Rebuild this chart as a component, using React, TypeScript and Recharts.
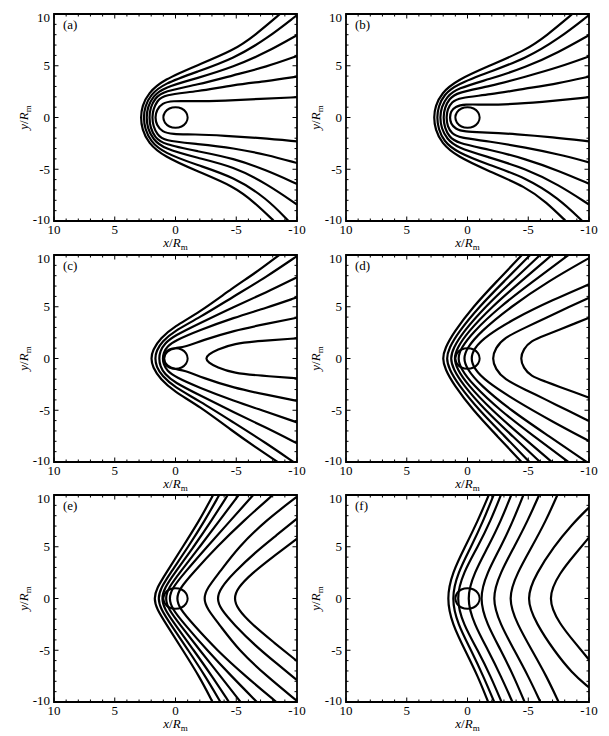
import React from 'react';
import { ScatterChart, Scatter, XAxis, YAxis, ReferenceArea } from 'recharts';

type Pt = [number, number];

// axis ticks (minor every 1, labels every 5)
const xTicks = [10, 9, 8, 7, 6, 5, 4, 3, 2, 1, 0, -1, -2, -3, -4, -5, -6, -7, -8, -9, -10];
const yTicks = [-10, -9, -8, -7, -6, -5, -4, -3, -2, -1, 0, 1, 2, 3, 4, 5, 6, 7, 8, 9, 10];
const labelTicks = [10, 5, 0, -5, -10];
const panelTags = ['(a)', '(b)', '(c)', '(d)', '(e)', '(f)'];

// planet outline, R = 1 (a little overlap so the spline closes smoothly)
const planet: Pt[] = [
  [0.87, -0.5], [1, 0], [0.87, 0.5], [0.5, 0.87], [0, 1], [-0.5, 0.87], [-0.87, 0.5], [-1, 0],
  [-0.87, -0.5], [-0.5, -0.87], [0, -1], [0.5, -0.87], [0.87, -0.5], [1, 0], [0.87, 0.5],
];

const curvesA: Pt[][] = [
  [[-8.6, 10], [-6.5, 7.9], [-4.8, 6.5], [-1.8, 5.05], [1.0, 3.65], [2.25, 2.35], [2.75, 1.1], [2.87, 0], [2.75, -1.15], [2.25, -2.45], [1.0, -3.75], [-1.8, -5.2], [-4.8, -6.65], [-6.5, -8.2], [-8.1, -10]],
  [[-10, 9.9], [-7.5, 7.6], [-4.8, 5.7], [-1.8, 4.43], [1.0, 3.25], [2.05, 2.2], [2.52, 1.05], [2.63, 0], [2.52, -1.1], [2.05, -2.3], [1.0, -3.4], [-1.8, -4.6], [-4.8, -5.75], [-7.5, -7.8], [-9.3, -10]],
  [[-10, 7.96], [-7.5, 6.3], [-4.8, 4.9], [-1.8, 3.8], [1.0, 2.9], [1.85, 2.05], [2.3, 1.0], [2.4, 0], [2.3, -1.05], [1.85, -2.1], [1.0, -3.0], [-1.8, -3.9], [-4.8, -4.75], [-7.5, -6.4], [-10, -8.41]],
  [[-10, 5.94], [-7.5, 4.9], [-4.8, 4.1], [-1.8, 3.15], [1.0, 2.55], [1.7, 1.85], [2.07, 0.95], [2.17, 0], [2.07, -1.0], [1.7, -1.9], [1.0, -2.6], [-1.8, -3.25], [-4.8, -3.95], [-7.5, -5.1], [-10, -6.42]],
  [[-10, 3.95], [-7.5, 3.5], [-4.8, 3.15], [-1.8, 2.5], [1.0, 2.2], [1.5, 1.6], [1.83, 0.82], [1.93, 0], [1.83, -0.85], [1.5, -1.65], [1.0, -2.25], [-1.8, -2.55], [-4.8, -2.95], [-7.5, -3.6], [-10, -4.4]],
  [[-10, 1.96], [-7, 1.8], [-4, 1.62], [-1.5, 1.55], [0.3, 1.62], [1.1, 1.38], [1.55, 0.75], [1.69, 0], [1.55, -0.75], [1.1, -1.38], [0.3, -1.62], [-1.5, -1.62], [-4, -1.75], [-7, -1.98], [-10, -2.31]],
];

const curvesB: Pt[][] = [
  [[-8.63, 10], [-6.5, 7.9], [-4.8, 6.5], [-1.8, 5.0], [0.9, 3.6], [2.15, 2.35], [2.65, 1.1], [2.78, 0], [2.65, -1.15], [2.15, -2.45], [0.9, -3.75], [-1.8, -5.2], [-4.8, -6.7], [-6.5, -8.2], [-8.08, -10]],
  [[-10, 9.9], [-7.5, 7.6], [-4.8, 5.7], [-1.8, 4.4], [0.9, 3.2], [1.95, 2.2], [2.4, 1.05], [2.52, 0], [2.4, -1.1], [1.95, -2.3], [0.9, -3.35], [-1.8, -4.6], [-4.8, -5.8], [-7.5, -7.8], [-9.45, -10]],
  [[-10, 7.96], [-7.5, 6.3], [-4.8, 4.85], [-1.8, 3.7], [0.9, 2.8], [1.7, 2.0], [2.15, 1.0], [2.27, 0], [2.15, -1.05], [1.7, -2.05], [0.9, -2.9], [-1.8, -3.85], [-4.8, -4.95], [-7.5, -6.5], [-10, -8.41]],
  [[-10, 5.9], [-7.5, 4.85], [-4.8, 3.95], [-1.8, 3.0], [0.9, 2.4], [1.5, 1.8], [1.88, 0.95], [2.0, 0], [1.88, -1.0], [1.5, -1.85], [0.9, -2.45], [-1.8, -3.1], [-4.8, -4.0], [-7.5, -5.15], [-10, -6.4]],
  [[-10, 3.95], [-7.5, 3.3], [-4.8, 2.8], [-1.8, 2.2], [0.7, 1.9], [1.3, 1.5], [1.65, 0.8], [1.75, 0], [1.65, -0.85], [1.3, -1.55], [0.7, -1.95], [-1.8, -2.3], [-4.8, -2.9], [-7.5, -3.55], [-10, -4.33]],
  [[-10, 1.96], [-7, 1.6], [-4, 1.3], [-1.5, 1.22], [0.3, 1.3], [1.0, 1.05], [1.38, 0.6], [1.46, 0], [1.38, -0.6], [1.0, -1.1], [0.3, -1.38], [-1.5, -1.44], [-4, -1.6], [-7, -1.9], [-10, -2.3]],
];

const curvesC: Pt[][] = [
  [[-8.53, 10], [-6.5, 8.2], [-4.8, 6.9], [-1.9, 4.4], [0.1, 3.1], [1.25, 1.95], [1.88, 0.82], [2.02, 0], [1.88, -0.85], [1.25, -2.0], [0.1, -3.2], [-1.9, -4.55], [-4.8, -7.1], [-6.5, -8.5], [-8.4, -10]],
  [[-10, 9.9], [-7.5, 7.9], [-4.8, 6.0], [-1.9, 3.9], [0.1, 2.65], [1.1, 1.65], [1.58, 0.75], [1.69, 0], [1.58, -0.78], [1.1, -1.7], [0.1, -2.75], [-1.9, -4.05], [-4.8, -6.2], [-7.5, -8.2], [-9.7, -10]],
  [[-10, 7.85], [-7.5, 6.4], [-4.8, 5.0], [-1.9, 3.35], [0.1, 2.2], [0.9, 1.45], [1.27, 0.7], [1.36, 0], [1.27, -0.72], [0.9, -1.5], [0.1, -2.3], [-1.9, -3.5], [-4.8, -5.2], [-7.5, -6.7], [-10, -8.2]],
  [[-10, 5.91], [-7.5, 4.9], [-4.8, 3.95], [-1.9, 2.7], [0, 1.75], [0.7, 1.15], [0.98, 0.55], [1.06, 0], [0.98, -0.57], [0.7, -1.2], [0, -1.8], [-1.9, -2.8], [-4.8, -4.1], [-7.5, -5.15], [-10, -6.17]],
  [[-10, 3.94], [-7.5, 3.35], [-4.8, 2.7], [-2.2, 1.75], [-0.7, 1.08], [0.0, 1.04], [0.74, 0.72], [1.03, 0], [0.74, -0.74], [0.0, -1.06], [-0.7, -1.12], [-2.2, -1.85], [-4.8, -2.85], [-7.5, -3.5], [-10, -4.1]],
  [[-10, 1.95], [-7, 1.7], [-4.8, 1.45], [-3.4, 0.85], [-2.7, 0.38], [-2.47, 0], [-2.7, -0.38], [-3.4, -0.85], [-4.8, -1.42], [-7, -1.66], [-10, -1.91]],
];

const curvesD: Pt[][] = [
  [[-4.48, 10], [-2.45, 7.5], [-0.45, 5], [1.15, 2.5], [1.85, 1], [2.07, 0], [1.85, -1], [1.15, -2.5], [-0.45, -5], [-2.45, -7.5], [-4.45, -10]],
  [[-5.16, 10], [-3.05, 7.5], [-0.95, 5], [0.78, 2.5], [1.52, 1], [1.75, 0], [1.52, -1], [0.78, -2.5], [-0.95, -5], [-3.05, -7.5], [-5.1, -10]],
  [[-5.98, 10], [-3.7, 7.5], [-1.45, 5], [0.4, 2.5], [1.18, 1], [1.42, 0], [1.18, -1], [0.4, -2.5], [-1.45, -5], [-3.7, -7.5], [-5.98, -10]],
  [[-6.94, 10], [-4.45, 7.5], [-2.0, 5], [0.02, 2.5], [0.86, 1], [1.12, 0], [0.86, -1], [0.02, -2.5], [-2.0, -5], [-4.45, -7.5], [-6.94, -10]],
  [[-8.3, 10], [-5.45, 7.5], [-2.65, 5], [-0.4, 2.5], [0.54, 1], [0.82, 0], [0.54, -1], [-0.4, -2.5], [-2.65, -5], [-5.45, -7.5], [-8.3, -10]],
  [[-10, 9.7], [-6.7, 7.5], [-3.55, 5], [-0.98, 2.5], [0.05, 1], [0.35, 0], [0.05, -1], [-0.98, -2.5], [-3.55, -5], [-6.7, -7.5], [-9.8, -10]],
  [[-10, 7.17], [-7.0, 5.65], [-4.0, 3.95], [-1.5, 2.15], [-0.55, 1], [-0.25, 0], [-0.55, -1], [-1.5, -2.2], [-4.0, -4.1], [-7.0, -6.1], [-10, -7.97]],
  [[-10, 5.87], [-8.2, 4.9], [-6.5, 3.95], [-4.7, 2.95], [-3.0, 2.0], [-2.3, 1], [-2.02, 0], [-2.3, -1], [-3.0, -2.0], [-4.7, -2.98], [-6.5, -4.0], [-8.2, -5.0], [-10, -6.04]],
  [[-10, 3.94], [-8.8, 3.37], [-7.6, 2.8], [-6.4, 2.25], [-5.2, 1.7], [-4.6, 0.9], [-4.34, 0], [-4.6, -0.9], [-5.2, -1.7], [-6.4, -2.22], [-7.6, -2.75], [-8.8, -3.27], [-10, -3.78]],
];

const curvesE: Pt[][] = [
  [[-3.1, 10], [-1.95, 7.5], [-0.6, 5], [0.75, 2.5], [1.55, 1], [1.78, 0], [1.55, -1], [0.75, -2.5], [-0.6, -5], [-1.95, -7.5], [-3.05, -10]],
  [[-3.6, 10], [-2.4, 7.5], [-1.05, 5], [0.4, 2.5], [1.22, 1], [1.45, 0], [1.22, -1], [0.4, -2.5], [-1.05, -5], [-2.45, -7.5], [-3.7, -10]],
  [[-4.3, 10], [-2.95, 7.5], [-1.5, 5], [0.05, 2.5], [0.92, 1], [1.15, 0], [0.92, -1], [0.05, -2.5], [-1.5, -5], [-3.0, -7.5], [-4.4, -10]],
  [[-5.2, 10], [-3.6, 7.5], [-2.0, 5], [-0.35, 2.5], [0.6, 1], [0.85, 0], [0.6, -1], [-0.35, -2.5], [-2.0, -5], [-3.7, -7.5], [-5.35, -10]],
  [[-6.4, 10], [-4.5, 7.5], [-2.6, 5], [-0.75, 2.5], [0.28, 1], [0.55, 0], [0.28, -1], [-0.75, -2.5], [-2.6, -5], [-4.6, -7.5], [-6.7, -10]],
  [[-8.0, 10], [-5.6, 7.5], [-3.4, 5], [-1.45, 2.5], [-0.35, 1], [-0.06, 0], [-0.35, -1], [-1.45, -2.5], [-3.4, -5], [-5.75, -7.5], [-8.3, -10]],
  [[-10, 9.84], [-7.4, 7.5], [-5.2, 5], [-3.6, 2.5], [-2.6, 1], [-2.3, 0], [-2.6, -1], [-3.6, -2.5], [-5.2, -5], [-7.5, -7.5], [-10, -9.9]],
  [[-10, 7.73], [-8.3, 6.1], [-6.6, 4.5], [-4.8, 2.5], [-3.7, 1], [-3.4, 0], [-3.7, -1], [-4.8, -2.5], [-6.6, -4.6], [-8.3, -6.25], [-10, -7.9]],
  [[-10, 5.78], [-8.1, 4.1], [-6.25, 2.4], [-5.1, 1], [-4.8, 0], [-5.1, -1], [-6.25, -2.45], [-8.1, -4.25], [-10, -6.05]],
];

const curvesF: Pt[][] = [
  [[-1.75, 10], [-0.85, 7.5], [0.2, 5], [1.25, 2.5], [1.74, 0], [1.25, -2.5], [0.2, -5], [-0.85, -7.5], [-1.7, -10]],
  [[-2.15, 10], [-1.3, 7.5], [-0.3, 5], [0.8, 2.5], [1.35, 0], [0.8, -2.5], [-0.3, -5], [-1.3, -7.5], [-2.2, -10]],
  [[-2.75, 10], [-1.9, 7.5], [-0.85, 5], [0.35, 2.5], [0.97, 0], [0.35, -2.5], [-0.85, -5], [-1.9, -7.5], [-2.8, -10]],
  [[-3.6, 10], [-2.75, 7.5], [-1.7, 5], [-0.55, 2.5], [0.12, 0], [-0.55, -2.5], [-1.7, -5], [-2.75, -7.5], [-3.7, -10]],
  [[-4.6, 10], [-3.75, 7.5], [-2.75, 5], [-1.6, 2.5], [-0.94, 0], [-1.6, -2.5], [-2.75, -5], [-3.8, -7.5], [-4.7, -10]],
  [[-5.9, 10], [-4.95, 7.5], [-3.85, 5], [-2.7, 2.5], [-1.96, 0], [-2.7, -2.5], [-3.85, -5], [-5.0, -7.5], [-6.0, -10]],
  [[-7.4, 10], [-6.45, 7.5], [-5.3, 5], [-4.1, 2.5], [-3.28, 0], [-4.1, -2.5], [-5.3, -5], [-6.5, -7.5], [-7.5, -10]],
  [[-10, 8.8], [-8.55, 7.1], [-7.1, 5], [-5.7, 2.5], [-4.75, 0], [-5.7, -2.5], [-7.1, -5], [-8.6, -7.2], [-10, -8.6]],
  [[-10, 5.9], [-8.8, 4.2], [-7.6, 2.5], [-6.5, 0], [-7.6, -2.5], [-8.8, -4.2], [-10, -5.92]],
];

const panelCurves = [curvesA, curvesB, curvesC, curvesD, curvesE, curvesF];

// layout
const PLOT_W = 243;
const PLOT_H = 207;
const Y_AX = 40;
const X_AX = 28;
const M_TOP = 6;
const M_RIGHT = 16;
const colLeft = [54, 346];
const rowTop = [14, 255, 495];
const FONT = '"Liberation Serif", "Times New Roman", serif';

const toXY = (pts: Pt[]) => pts.map(([x, y]) => ({ x, y }));

function XTick(props: any) {
  const { x, y, payload } = props;
  const v = payload.value;
  const major = labelTicks.includes(v);
  const len = major ? 4.5 : 2.5;
  return (
    <g>
      <line x1={x} y1={y} x2={x} y2={y - len} stroke="#000" strokeWidth={1} />
      <line x1={x} y1={y - PLOT_H} x2={x} y2={y - PLOT_H + len} stroke="#000" strokeWidth={1} />
      {major && (
        <text x={x} y={y + 12.5} textAnchor="middle" fontSize={13} fontFamily={FONT} fill="#000">
          {String(v)}
        </text>
      )}
    </g>
  );
}

function YTick(props: any) {
  const { x, y, payload } = props;
  const v = payload.value;
  const major = labelTicks.includes(v);
  const len = major ? 4.5 : 2.5;
  const shift = v === 10 ? 3 : v === -10 ? -1.5 : 0;
  return (
    <g>
      <line x1={x} y1={y} x2={x + len} y2={y} stroke="#000" strokeWidth={1} />
      <line x1={x + PLOT_W} y1={y} x2={x + PLOT_W - len} y2={y} stroke="#000" strokeWidth={1} />
      {major && (
        <text x={x - 4} y={y + 4.5 + shift} textAnchor="end" fontSize={13} fontFamily={FONT} fill="#000">
          {String(v)}
        </text>
      )}
    </g>
  );
}

function Panel({ curves, left, top }: { curves: Pt[][]; left: number; top: number }) {
  return (
    <div style={{ position: 'absolute', left: left - Y_AX, top: top - M_TOP }}>
      <ScatterChart
        width={Y_AX + PLOT_W + M_RIGHT}
        height={M_TOP + PLOT_H + X_AX}
        margin={{ top: M_TOP, right: M_RIGHT, bottom: 0, left: 0 }}
      >
        <XAxis
          type="number"
          dataKey="x"
          domain={[-10, 10]}
          reversed
          ticks={xTicks}
          interval={0}
          tickLine={false}
          axisLine={false}
          tickSize={0}
          tickMargin={0}
          height={X_AX}
          tick={(p: any) => <XTick {...p} />}
          allowDataOverflow
        />
        <YAxis
          type="number"
          dataKey="y"
          domain={[-10, 10]}
          ticks={yTicks}
          interval={0}
          tickLine={false}
          axisLine={false}
          tickSize={0}
          tickMargin={0}
          width={Y_AX}
          tick={(p: any) => <YTick {...p} />}
          allowDataOverflow
        />
        <ReferenceArea x1={10} x2={-10} y1={-10} y2={10} fill="none" fillOpacity={0} stroke="#000" strokeWidth={1.8} />
        {curves.map((c, i) => (
          <Scatter
            key={i}
            data={toXY(c)}
            fill="#000"
            line={{ stroke: '#000', strokeWidth: 2.2 }}
            lineJointType="basis"
            shape={() => <g />}
            isAnimationActive={false}
          />
        ))}
        <Scatter
          data={toXY(planet)}
          fill="#000"
          line={{ stroke: '#000', strokeWidth: 2 }}
          lineJointType="natural"
          shape={() => <g />}
          isAnimationActive={false}
        />
      </ScatterChart>
    </div>
  );
}

function Titles({ left, top, tag }: { left: number; top: number; tag: string }) {
  const cx = left + PLOT_W / 2;
  const cy = top + PLOT_H / 2;
  const yx = left - 26;
  return (
    <g fontFamily={FONT} fill="#000">
      <text x={left + 9} y={top + 15} fontSize={13}>{tag}</text>
      <text x={cx} y={top + PLOT_H + 26} fontSize={13} textAnchor="middle">
        <tspan fontStyle="italic">x</tspan>
        <tspan>/</tspan>
        <tspan fontStyle="italic">R</tspan>
        <tspan fontSize={9} dy={3}>m</tspan>
      </text>
      <text x={yx} y={cy} fontSize={13} textAnchor="middle" transform={`rotate(-90, ${yx}, ${cy})`}>
        <tspan fontStyle="italic">y</tspan>
        <tspan>/</tspan>
        <tspan fontStyle="italic">R</tspan>
        <tspan fontSize={9} dy={3}>m</tspan>
      </text>
    </g>
  );
}

export default function App() {
  return (
    <div style={{ position: 'absolute', left: 0, top: 0, width: 609, height: 736, background: '#fff' }}>
      {panelCurves.map((curves, i) => (
        <Panel key={i} curves={curves} left={colLeft[i % 2]} top={rowTop[Math.floor(i / 2)]} />
      ))}
      <svg width={609} height={736} style={{ position: 'absolute', left: 0, top: 0, pointerEvents: 'none' }}>
        {panelTags.map((tag, i) => (
          <Titles key={tag} tag={tag} left={colLeft[i % 2]} top={rowTop[Math.floor(i / 2)]} />
        ))}
      </svg>
    </div>
  );
}
